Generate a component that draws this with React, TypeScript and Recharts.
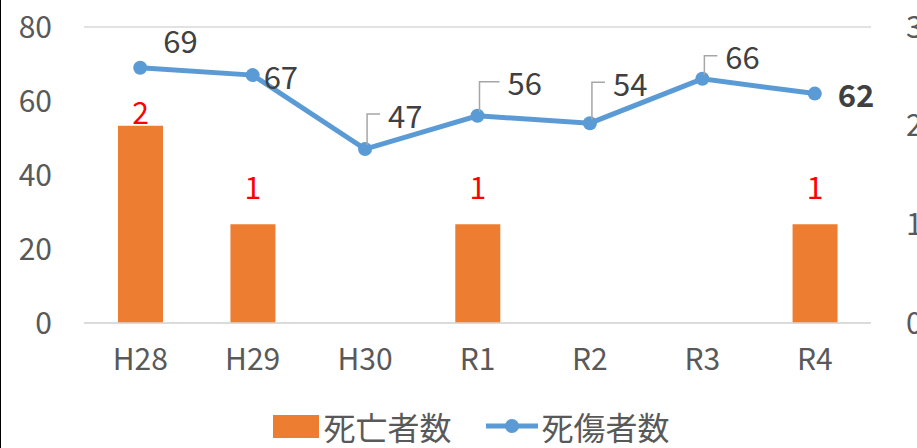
import { ComposedChart, Bar, Line, XAxis, YAxis, CartesianGrid, Legend, LabelList } from "recharts";

const years = ["H28", "H29", "H30", "R1", "R2", "R3", "R4"];
const deaths = [2, 1, 0, 1, 0, 0, 1];
const casualties = [69, 67, 47, 56, 54, 66, 62];
const leftTicks = [0, 20, 40, 60, 80];
const rightTicks = [0, 1, 2, 3];

const data = years.map((y, i) => ({ year: y, deaths: deaths[i], casualties: casualties[i] }));

const FONT = "'Noto Sans CJK JP', 'Noto Sans', sans-serif";
const ORANGE = "#ED7D31";
const BLUE = "#5B9BD5";
const GREY = "#595959";

// label placement for the line, per point: left edge dx, centre dy, leader line, bold
const lineLabelPos = [
  { dx: 23, dy: -28, leader: false, bold: false },
  { dx: 11, dy: 0, leader: false, bold: false },
  { dx: 23, dy: -35, leader: true, bold: false },
  { dx: 30, dy: -34, leader: true, bold: false },
  { dx: 23, dy: -41, leader: true, bold: false },
  { dx: 23, dy: -23, leader: true, bold: false },
  { dx: 23, dy: 0, leader: false, bold: true },
];

function LineLabel(props: any) {
  const { x, y, value, index } = props;
  const p = lineLabelPos[index];
  const lx = x + p.dx;
  const ly = y + p.dy;
  return (
    <g>
      {p.leader && (
        <polyline
          points={`${x + 2},${y - 4} ${x + 2},${ly} ${lx - 8},${ly}`}
          fill="none"
          stroke="#A6A6A6"
          strokeWidth={1.5}
        />
      )}
      <text
        x={lx}
        y={ly}
        dominantBaseline="central"
        fontSize={31}
        fontFamily={FONT}
        fontWeight={p.bold ? 700 : 400}
        fill="#404040"
      >
        {value}
      </text>
    </g>
  );
}

function BarLabel(props: any) {
  const { x, y, width, value, index } = props;
  if (!value) return null;
  const dy = index === 0 ? -15 : -38;
  return (
    <text
      x={x + width / 2}
      y={y + dy}
      textAnchor="middle"
      dominantBaseline="central"
      fontSize={30}
      fontFamily={FONT}
      fontWeight={index === 6 ? 700 : 400}
      fill="#FF0000"
    >
      {value}
    </text>
  );
}

function LegendContent() {
  return (
    <div
      style={{
        height: 50,
        display: "flex",
        alignItems: "center",
        justifyContent: "center",
        fontFamily: FONT,
        fontSize: 32,
        lineHeight: "34px",
        color: GREY,
        paddingTop: 6,
        boxSizing: "border-box",
      }}
    >
      <span style={{ display: "inline-block", width: 46, height: 23, background: ORANGE, marginRight: 4 }} />
      <span style={{ marginRight: 34 }}>死亡者数</span>
      <svg width={52} height={20} style={{ marginRight: 4 }}>
        <line x1={0} y1={10} x2={52} y2={10} stroke={BLUE} strokeWidth={5} />
        <circle cx={26} cy={10} r={7} fill={BLUE} />
      </svg>
      <span>死傷者数</span>
    </div>
  );
}

export default function App() {
  return (
    <div
      style={{
        position: "fixed",
        left: 0,
        top: 0,
        width: 917,
        height: 448,
        overflow: "hidden",
        background: "#fff",
        borderLeft: "1.5px solid #000",
        boxSizing: "border-box",
      }}
    >
      <ComposedChart
        width={942}
        height={448}
        data={data}
        margin={{ top: 27, right: 0, left: -1, bottom: 0 }}
        barCategoryGap={0}
      >
        <CartesianGrid vertical={false} stroke="#D9D9D9" strokeWidth={1.5} />
        <XAxis
          dataKey="year"
          height={75}
          tickSize={0}
          tickMargin={26}
          axisLine={{ stroke: "#D9D9D9", strokeWidth: 1.5 }}
          tickLine={false}
          tick={{ fontSize: 30, fill: GREY, fontFamily: FONT }}
        />
        <YAxis
          yAxisId="left"
          domain={[0, 80]}
          ticks={leftTicks}
          width={84}
          tickSize={0}
          tickMargin={32}
          axisLine={false}
          tickLine={false}
          tick={{ fontSize: 30, fill: GREY, fontFamily: FONT }}
        />
        <YAxis
          yAxisId="right"
          orientation="right"
          domain={[0, 3]}
          ticks={rightTicks}
          width={72}
          tickSize={0}
          tickMargin={35}
          axisLine={false}
          tickLine={false}
          tick={{ fontSize: 30, fill: GREY, fontFamily: FONT }}
        />
        <Legend verticalAlign="bottom" content={<LegendContent />} />
        <Bar yAxisId="right" dataKey="deaths" name="死亡者数" fill={ORANGE} barSize={45} isAnimationActive={false}>
          <LabelList dataKey="deaths" content={<BarLabel />} />
        </Bar>
        <Line
          yAxisId="left"
          type="linear"
          dataKey="casualties"
          name="死傷者数"
          stroke={BLUE}
          strokeWidth={5}
          dot={{ r: 7, fill: BLUE, stroke: BLUE, strokeWidth: 0 }}
          activeDot={false}
          isAnimationActive={false}
        >
          <LabelList dataKey="casualties" content={<LineLabel />} />
        </Line>
      </ComposedChart>
    </div>
  );
}
